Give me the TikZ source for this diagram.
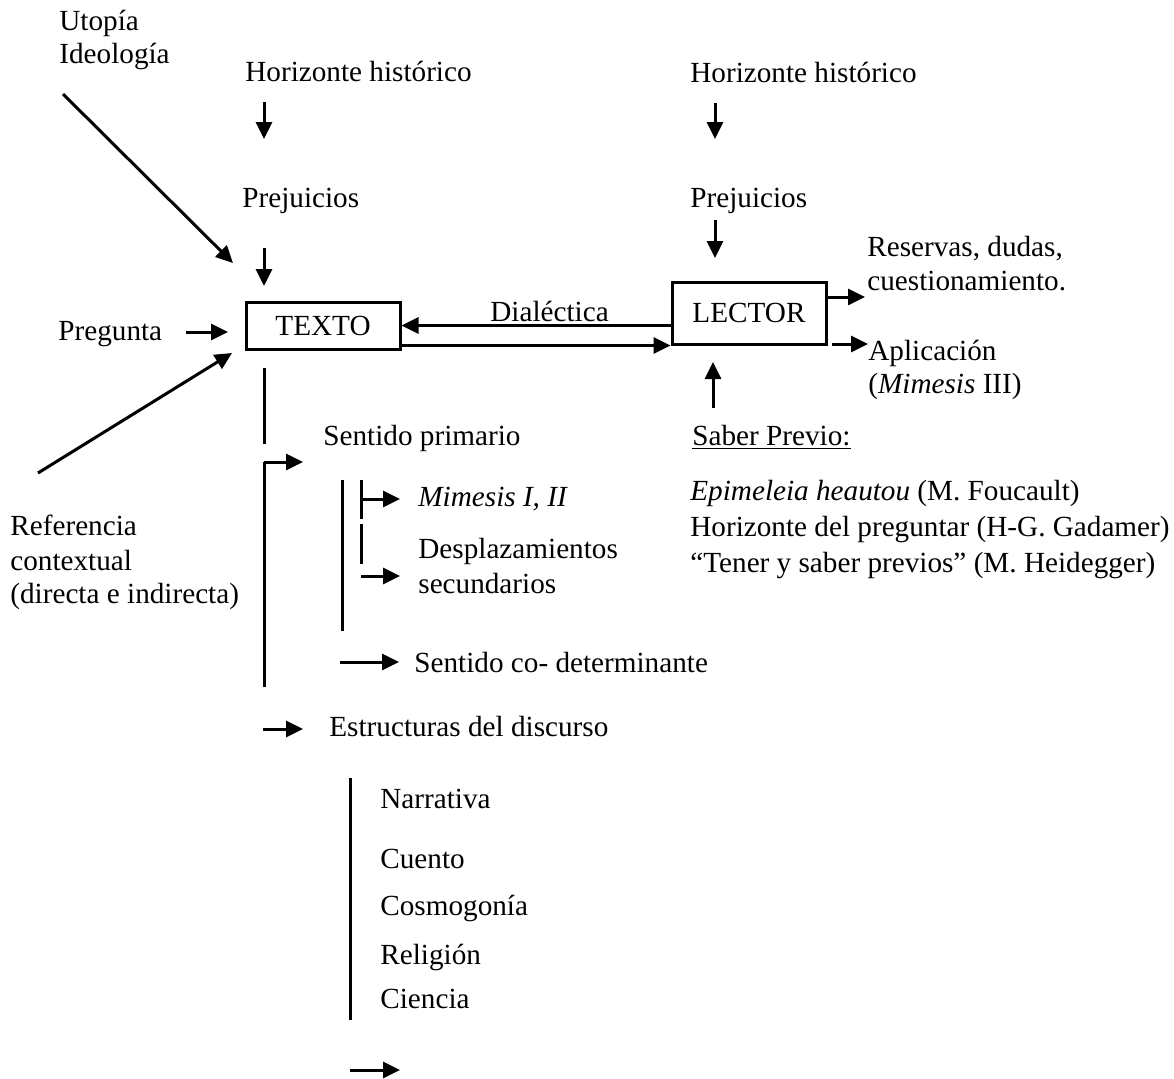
\documentclass[tikz,border=0pt]{standalone}
\usepackage{fontspec}
\setmainfont{Liberation Serif}
\usetikzlibrary{positioning,arrows.meta}

\tikzset{
    etiqueta/.style={anchor=base west, inner sep=0pt, font=\fontsize{14.6pt}{17pt}\selectfont},
    caja/.style={draw, line width=1.5pt, inner sep=0pt, minimum width=77pt, font=\fontsize{14.6pt}{17pt}\selectfont},
    flecha/.style={line width=1.5pt, -{Triangle[length=8.5pt,width=8pt]}},
    raya/.style={line width=1.5pt},
}

\begin{document}
\begin{tikzpicture}[x=0.5pt,y=-0.5pt]
    \useasboundingbox (0,0) rectangle (1174,1078);

    % Cajas centrales
    \node[caja, minimum height=23.5pt] (texto) at (323,325.5) {TEXTO};
    \node[caja, minimum height=31pt] (lector) at (749,313) {LECTOR};

    % Lado del texto
    \node[etiqueta] (utopia) at (59,30) {Utopía};
    \node[etiqueta] (ideologia) at (59,63) {Ideología};
    \node[etiqueta] (horizonteA) at (245,81) {Horizonte histórico};
    \node[etiqueta] (prejuiciosA) at (242,207) {Prejuicios};
    \node[etiqueta] (pregunta) at (58,340) {Pregunta};
    \node[etiqueta] (referencia) at (10,535) {Referencia};
    \node[etiqueta] (contextual) at (10,570) {contextual};
    \node[etiqueta] (directa) at (10,603) {(directa e indirecta)};

    % Lado del lector
    \node[etiqueta] (horizonteB) at (690,82) {Horizonte histórico};
    \node[etiqueta] (prejuiciosB) at (690,207) {Prejuicios};
    \node[etiqueta] (reservas) at (867,256) {Reservas, dudas,};
    \node[etiqueta] (cuestion) at (867,290) {cuestionamiento.};
    \node[etiqueta] (aplicacion) at (868,360) {Aplicación};
    \node[etiqueta] (mimesisIII) at (868,393) {(\textit{Mimesis} III)};
    \node[etiqueta] (saber) at (692,445) {\underline{Saber Previo:}};
    \node[etiqueta] (foucault) at (690,500) {\textit{Epimeleia heautou} (M. Foucault)};
    \node[etiqueta] (gadamer) at (690,536) {Horizonte del preguntar (H-G. Gadamer)};
    \node[etiqueta] (heidegger) at (690,572) {“Tener y saber previos” (M. Heidegger)};
    \node[etiqueta] (dialectica) at (490,321) {Dialéctica};

    % Sentidos y estructuras
    \node[etiqueta] (primario) at (323,445) {Sentido primario};
    \node[etiqueta] (mimesisI) at (418,506) {\textit{Mimesis I, II}};
    \node[etiqueta] (desplaz) at (418,558) {Desplazamientos};
    \node[etiqueta] (secund) at (418,593) {secundarios};
    \node[etiqueta] (codet) at (414,672) {Sentido co- determinante};
    \node[etiqueta] (estructuras) at (329,736) {Estructuras del discurso};
    \node[etiqueta] (narrativa) at (380,808) {Narrativa};
    \node[etiqueta] (cuento) at (380,868) {Cuento};
    \node[etiqueta] (cosmogonia) at (380,915) {Cosmogonía};
    \node[etiqueta] (religion) at (380,964) {Religión};
    \node[etiqueta] (ciencia) at (380,1008) {Ciencia};

    % Extremos libres
    \coordinate (u1) at (63,94);     \coordinate (u2) at (233,263);
    \coordinate (r1) at (38,473);    \coordinate (r2) at (232,353);
    \coordinate (p1) at (186,332);   \coordinate (p2) at (228,332);
    \coordinate (hA1) at (264,102);  \coordinate (hA2) at (264,139);
    \coordinate (pA1) at (264,248);  \coordinate (pA2) at (264,286);
    \coordinate (hB1) at (715,103);  \coordinate (hB2) at (715,139);
    \coordinate (pB1) at (715,220);  \coordinate (pB2) at (715,258);
    \coordinate (s1) at (713,408);   \coordinate (s2) at (713,362);
    \coordinate (res) at (865,297);
    \coordinate (ap1) at (832,344);  \coordinate (ap2) at (868,344);

    % Flechas de entrada
    \draw[flecha] (u1) -- (u2);
    \draw[flecha] (r1) -- (r2);
    \draw[flecha] (p1) -- (p2);
    \draw[flecha] (hA1) -- (hA2);
    \draw[flecha] (pA1) -- (pA2);
    \draw[flecha] (hB1) -- (hB2);
    \draw[flecha] (pB1) -- (pB2);
    \draw[flecha] (s1) -- (s2);

    % Dialectica
    \draw[flecha] (lector.west |- texto.east) -- (texto.east);
    \draw[flecha] (texto.east |- lector.south) -- (lector.south west);

    % Salidas del lector
    \draw[flecha] (lector.east |- res) -- (res);
    \draw[flecha] (ap1) -- (ap2);

    % Ramas bajo el texto
    \draw[raya] (264,368) -- (264,444);
    \draw[raya] (264,687) -- (264,462);
    \draw[flecha] (264,462) -- (303,462);
    \draw[raya] (342,480) -- (342,631);
    \draw[raya] (361,480) -- (361,519);
    \draw[flecha] (361,499) -- (400,499);
    \draw[raya] (361,524) -- (361,564);
    \draw[flecha] (361,576) -- (400,576);
    \draw[flecha] (340,662) -- (399,662);
    \draw[flecha] (263,729) -- (303,729);
    \draw[raya] (350,778) -- (350,1020);
    \draw[flecha] (350,1070) -- (400,1070);
\end{tikzpicture}
\end{document}
